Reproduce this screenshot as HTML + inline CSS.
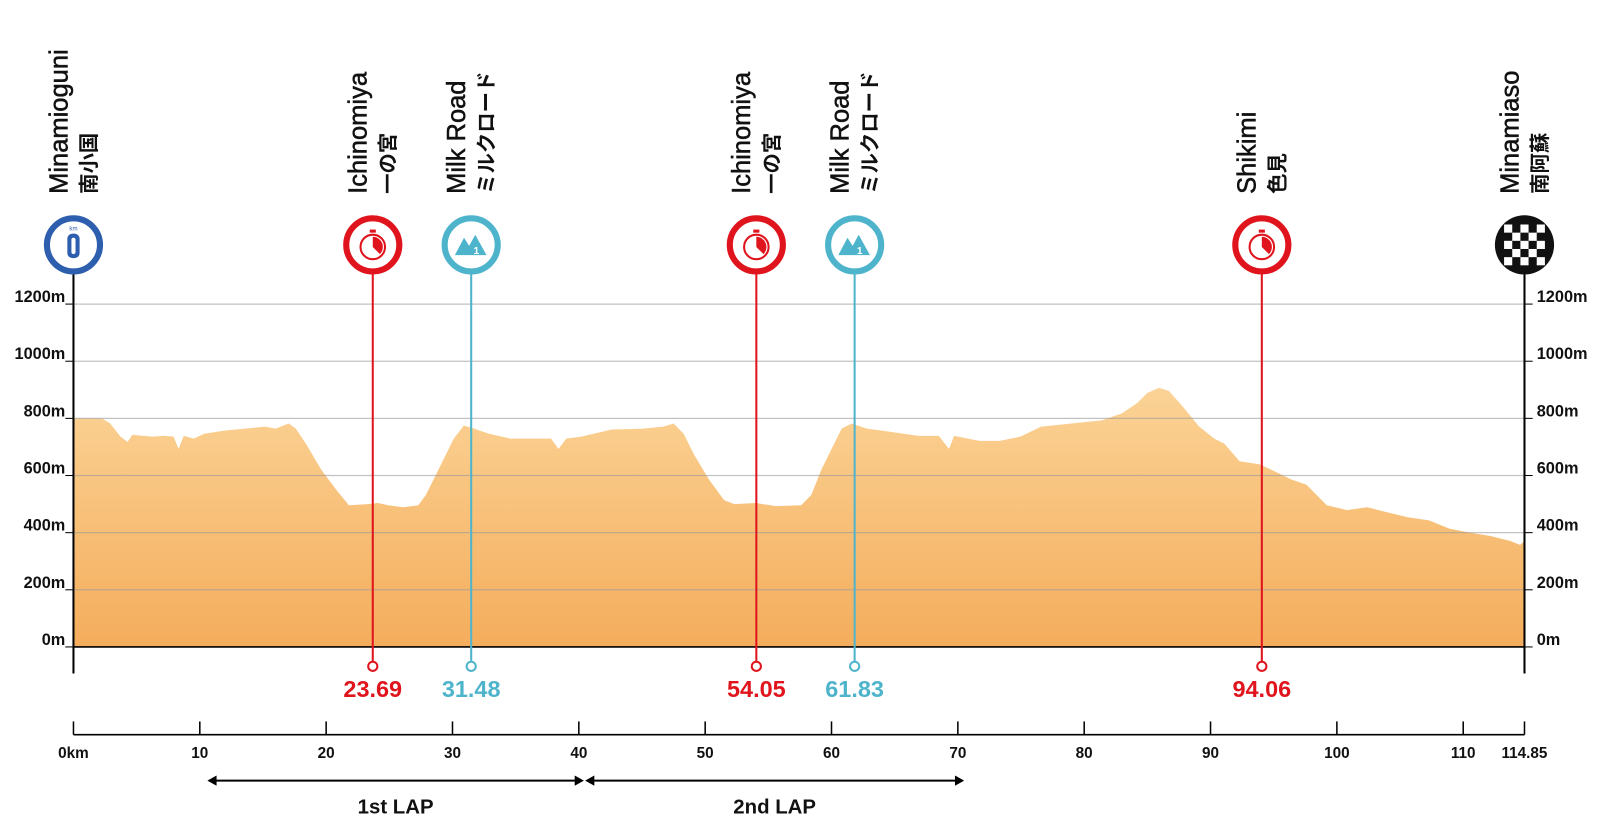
<!DOCTYPE html>
<html><head><meta charset="utf-8"><style>
html,body{margin:0;padding:0;background:#fff;}
svg{display:block;font-family:"Liberation Sans","Noto Sans CJK JP",sans-serif;}
</style></head><body>
<svg id="chart" width="1600" height="840" viewBox="0 0 1568 823.2" xmlns="http://www.w3.org/2000/svg">
<defs><linearGradient id="fillg" x1="0" y1="0" x2="0" y2="1"><stop offset="0" stop-color="#fbd396"/><stop offset="1" stop-color="#f4ad5c"/></linearGradient></defs>
</svg>
<script>
const distances=[0,2.26,2.91,3.72,4.28,4.68,5.49,6.3,7.11,7.92,8.32,8.72,9.53,10.34,11.95,13.57,15.18,15.99,17.04,17.6,18.4,19.6,20.8,21.8,23.3,24.1,24.9,26.1,27.3,27.9,28.5,29.3,30.1,30.9,31.7,32.9,34.6,36.2,37.8,38.4,39.0,40.2,42.6,45.1,46.7,47.5,48.3,49.1,50.3,51.5,52.3,54.0,55.6,57.6,58.4,59.2,60.0,60.8,61.6,62.8,64.5,66.9,68.5,69.3,69.7,71.7,73.3,74.95,76.6,79.0,81.4,83.0,84.2,85.0,85.9,86.7,87.9,89.1,90.3,91.1,92.3,93.9,95.1,96.4,97.6,99.2,100.8,102.4,104.0,105.6,107.3,108.9,110.5,112.1,113.7,114.5,114.85];
const elevations=[800,800,782,736,718,743,739,736,739,736,693,739,729,746,757,764,771,764,782,764,711,621,550,496,500,504,496,489,496,532,586,657,729,775,764,746,729,729,729,693,729,736,761,764,771,782,746,675,586,514,500,504,493,496,532,621,693,764,782,764,754,739,739,693,739,721,721,736,771,782,793,818,854,889,907,896,836,771,729,711,650,639,614,586,568,496,479,489,471,454,443,414,400,389,371,357,371];
const yTicks=[0,200,400,600,800,1000,1200];
const xTicks=[0,10,20,30,40,50,60,70,80,90,100,110,114.85];
const xTickLabels=["0km","10","20","30","40","50","60","70","80","90","100","110","114.85"];
const pointKm=[0,23.69,31.48,54.05,61.83,94.06,114.85];
const pointType=["start","sprint","kom","sprint","kom","sprint","finish"];
const pointEn=["Minamioguni","Ichinomiya","Milk Road","Ichinomiya","Milk Road","Shikimi","Minamiaso"];
const pointJa=["南小国","一の宮","ミルクロード","一の宮","ミルクロード","色見","南阿蘇"];
const lapNames=["1st LAP","2nd LAP"];
const lapStart=[10.6,40.5];
const lapEnd=[40.4,70.5];

const NS="http://www.w3.org/2000/svg";
const svg=document.getElementById('chart');
const X0=72,X1=1494,KMAX=114.85,Y0=634,YPX=0.28;
const xs=k=>X0+(k/KMAX)*(X1-X0);
const ys=e=>Y0-e*YPX;
function mk(tag,attrs,parent){const e=document.createElementNS(NS,tag);for(const k in attrs)e.setAttribute(k,attrs[k]);(parent||svg).appendChild(e);return e;}

let d=`M${xs(0)},${Y0}`;
distances.forEach((k,i)=>{d+=` L${xs(k).toFixed(1)},${ys(elevations[i]).toFixed(1)}`;});
d+=` L${xs(KMAX)},${Y0} Z`;
const prof=mk('path',{d:d,fill:'url(#fillg)'});



yTicks.forEach(v=>{
  const y=ys(v);
  if(v>0){const g=mk('line',{x1:X0,x2:X1,y1:y,y2:y,stroke:'#999','stroke-opacity':0.6,'stroke-width':1.2});
  
  }
  mk('line',{x1:X0-8,x2:X0,y1:y,y2:y,stroke:'#000','stroke-width':1});
  mk('line',{x1:X1,x2:X1+8,y1:y,y2:y,stroke:'#000','stroke-width':1});
  const tl=mk('text',{x:X0-8,y:y-2,'text-anchor':'end','font-size':16,'font-weight':'bold',fill:'#111'});tl.textContent=v+'m';
  
  
  const tr=mk('text',{x:X1+12,y:y-2,'text-anchor':'start','font-size':16,'font-weight':'bold',fill:'#111'});tr.textContent=v+'m';
  
  
});
mk('line',{x1:X0,x2:X1,y1:Y0,y2:Y0,stroke:'#000','stroke-width':1.5});
mk('line',{x1:X0,x2:X0,y1:268,y2:660,stroke:'#000','stroke-width':2});
mk('line',{x1:X1,x2:X1,y1:268,y2:660,stroke:'#000','stroke-width':2});

mk('line',{x1:X0,x2:X1,y1:720,y2:720,stroke:'#000','stroke-width':1.5});
xTicks.forEach((k,i)=>{
  const x=xs(k);
  mk('line',{x1:x,x2:x,y1:707,y2:720,stroke:'#000','stroke-width':1.5});
  const t=mk('text',{x:x,y:743,'text-anchor':'middle','font-size':15,'font-weight':'bold',fill:'#111'});
  t.textContent=xTickLabels[i];
  
  
});

lapNames.forEach((n,i)=>{
  const a=xs(lapStart[i]),b=xs(lapEnd[i]),y=765;
  mk('line',{x1:a+6,x2:b-6,y1:y,y2:y,stroke:'#000','stroke-width':2});
  mk('path',{d:`M${a},${y} l9,-5 v10 Z M${b},${y} l-9,-5 v10 Z`,fill:'#000'});
  const t=mk('text',{x:(a+b)/2,y:797,'text-anchor':'middle','font-size':20,'font-weight':'bold',fill:'#111'});
  t.textContent=n;
  
  
});

const colors={start:'#2e5fae',sprint:'#e0141c',kom:'#4eb4cc',finish:'#111'};
pointKm.forEach((k,i)=>{
  const x=xs(k),c=colors[pointType[i]],cy=240;
  const g=mk('g',{});
  
  
  const t1=mk('text',{transform:`translate(${x-6},190) rotate(-90)`,'font-size':25,fill:'#111',stroke:'#111','stroke-width':0.5},g);t1.textContent=pointEn[i];
  const t2=mk('text',{transform:`translate(${x+22},190) rotate(-90)`,'font-size':20,'font-weight':'bold',fill:'#111'},g);t2.textContent=pointJa[i];
  if(pointType[i]==='sprint'||pointType[i]==='kom'){
    mk('line',{x1:x,x2:x,y1:cy+28,y2:648,stroke:c,'stroke-width':2},g);
    mk('circle',{cx:x,cy:653,r:4.5,fill:'#fff',stroke:c,'stroke-width':2},g);
    const v=mk('text',{x:x,y:683,'text-anchor':'middle','font-size':23,'font-weight':'bold',fill:c},g);
    v.textContent=k.toFixed(2);
  }
  if(pointType[i]==='finish'){
    mk('circle',{cx:x,cy:cy,r:29,fill:'#111'},g);
    for(let r=0;r<5;r++)for(let q=0;q<5;q++){if((r+q)%2===0)mk('rect',{x:x-20+q*8,y:cy-20+r*8,width:8,height:8,fill:'#fff'},g);}
  }else{
    mk('circle',{cx:x,cy:cy,r:26,fill:'#fff',stroke:c,'stroke-width':6},g);
    if(pointType[i]==='start'){
      mk('rect',{x:x-6,y:cy-11,width:12,height:24,rx:5,fill:c},g);
      mk('rect',{x:x-2,y:cy-7,width:4,height:16,rx:2,fill:'#fff'},g);
      const km=mk('text',{x:x,y:cy-14,'text-anchor':'middle','font-size':6,fill:c},g);km.textContent='km';
    }else if(pointType[i]==='sprint'){
      mk('circle',{cx:x,cy:cy+2,r:12,fill:'none',stroke:c,'stroke-width':2},g);
      mk('path',{d:`M${x},${cy+2} L${x},${cy-8} A10,10 0 0 1 ${x+7},${cy+9} Z`,fill:c},g);
      mk('rect',{x:x-3,y:cy-15,width:6,height:3,fill:c},g);
    }else{
      mk('path',{d:`M${x-16},${cy+10} L${x-7},${cy-7} L${x-2},${cy+1} L${x+4},${cy-10} L${x+15},${cy+10} Z`,fill:c},g);
      const n=mk('text',{x:x+5,y:cy+9,'text-anchor':'middle','font-size':10,'font-weight':'bold',fill:'#fff'},g);n.textContent='1';
    }
  }
});
</script>
</body></html>
